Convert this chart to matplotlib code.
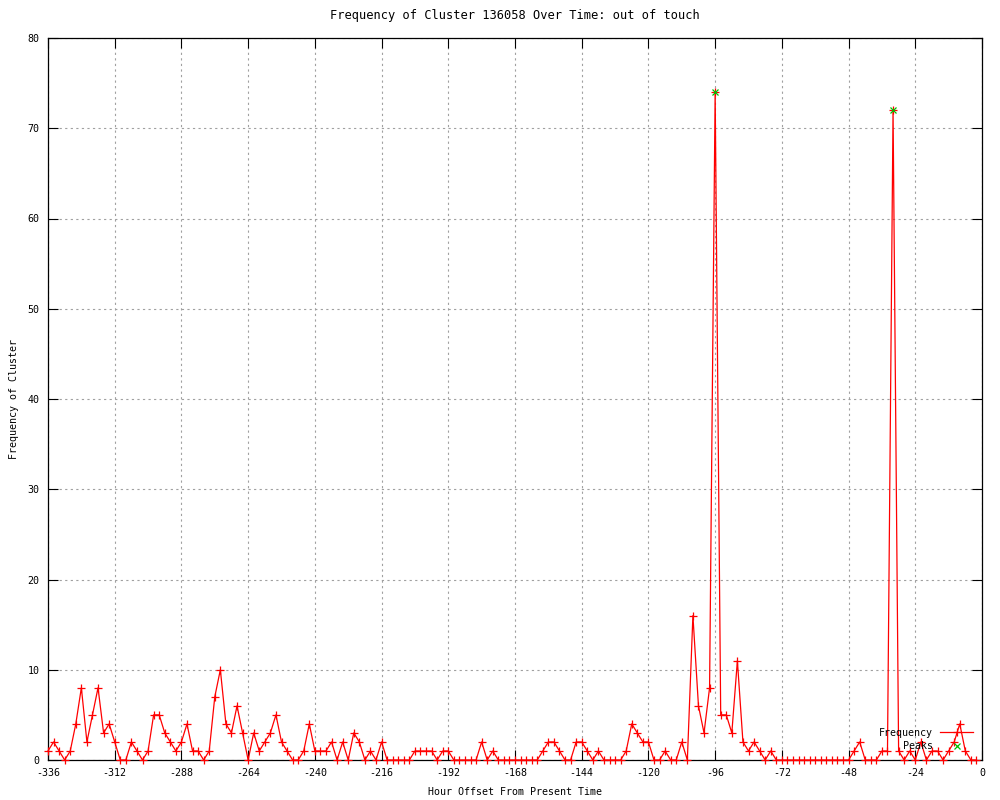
import matplotlib
matplotlib.use('Agg')
import matplotlib.pyplot as plt
import numpy as np

# hours from -336 to -2, every 2 hours
hours = np.arange(-336, 0, 2)
freq = [1, 2, 1, 0, 1, 4, 8, 2, 5, 8, 3, 4,      # -336 .. -314
        2, 0, 0, 2, 1, 0, 1, 5, 5, 3, 2, 1,      # -312 .. -290
        2, 4, 1, 1, 0, 1, 7, 10, 4, 3, 6, 3,     # -288 .. -266
        0, 3, 1, 2, 3, 5, 2, 1, 0, 0, 1, 4,      # -264 .. -242
        1, 1, 1, 2, 0, 2, 0, 3, 2, 0, 1, 0,      # -240 .. -218
        2, 0, 0, 0, 0, 0, 1, 1, 1, 1, 0, 1,      # -216 .. -194
        1, 0, 0, 0, 0, 0, 2, 0, 1, 0, 0, 0,      # -192 .. -170
        0, 0, 0, 0, 0, 1, 2, 2, 1, 0, 0, 2,      # -168 .. -146
        2, 1, 0, 1, 0, 0, 0, 0, 1, 4, 3, 2,      # -144 .. -122
        2, 0, 0, 1, 0, 0, 2, 0, 16, 6, 3, 8,     # -120 .. -98
        74, 5, 5, 3, 11, 2, 1, 2, 1, 0, 1, 0,    # -96 .. -74
        0, 0, 0, 0, 0, 0, 0, 0, 0, 0, 0, 0,      # -72 .. -50
        0, 1, 2, 0, 0, 0, 1, 1, 72, 1, 0, 1,     # -48 .. -26
        0, 2, 0, 1, 1, 0, 1, 2, 4, 1, 0, 0]      # -24 .. -2

peak_hours = [-96, -32]
peak_freq = [74, 72]

xticks = list(range(-336, 1, 24))
yticks = list(range(0, 81, 10))

plt.rcParams['font.family'] = 'DejaVu Sans Mono'
plt.rcParams['font.size'] = 7.2
plt.rcParams['axes.unicode_minus'] = False

fig = plt.figure(figsize=(10, 8), dpi=100)
ax = fig.add_axes([0.048, 0.05, 0.934, 0.9025])

ax.plot(hours, freq, color='red', linewidth=0.9, marker='+', markersize=6,
        markeredgewidth=0.9, label='Frequency', clip_on=False, zorder=3)
ax.plot(peak_hours, peak_freq, linestyle='none', color='#00c000', marker='x',
        markersize=5, markeredgewidth=0.9, label='Peaks', zorder=4)

ax.set_xlim(-336, 0)
ax.set_ylim(0, 80)
ax.set_xticks(xticks)
ax.set_yticks(yticks)
ax.grid(True, color='#a0a0a0', linestyle=(0, (2, 3)), linewidth=0.8)
ax.tick_params(direction='in', length=7, width=0.8, top=True, right=True,
               labeltop=False, labelright=False, pad=6)
for s in ax.spines.values():
    s.set_linewidth(0.9)

ax.set_title('Frequency of Cluster 136058 Over Time: out of touch', pad=14)
ax.set_xlabel('Hour Offset From Present Time', labelpad=6)
ax.set_ylabel('Frequency of Cluster')
ax.yaxis.set_label_coords(-0.031, 0.5)

ax.legend(loc='lower right', frameon=False, markerfirst=False,
          handlelength=3.3, handletextpad=0.7, labelspacing=0.35,
          borderaxespad=0.8, borderpad=0.1)

fig.savefig('out.png', dpi=100)
